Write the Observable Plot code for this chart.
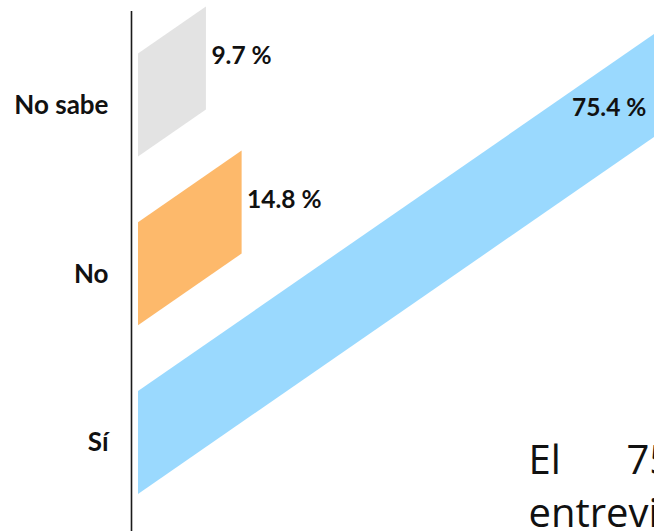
<!DOCTYPE html>
<html><head><meta charset="utf-8">
<script src="https://cdn.jsdelivr.net/npm/d3@7"></script>
<script src="https://cdn.jsdelivr.net/npm/@observablehq/plot@0.6"></script>
<style>
html,body{margin:0;padding:0;background:#fff;overflow:hidden;}
#chart svg{display:block;overflow:hidden;}
</style></head><body><div id="chart"></div>
<script>
// Data
const categories = ["Sí", "No", "No sabe"];
const values = [75.4, 14.8, 9.7];
const valueLabels = ["75.4 %", "14.8 %", "9.7 %"];
const colors = ["#9ad9fe", "#fdb96b", "#e3e3e3"];
const noteLine1 = ["El", "75.4 %"];
const noteLine2 = ["entrevistados"];

// Styling of the skewed (parallelogram) bars
const SKEW = 0.0287;   // upward drift per percentage point (in category units)
const HALF = 0.305;    // half bar thickness (in category units)

const rows = categories.map((c, i) => ({category: c, index: i, value: values[i], label: valueLabels[i]}));
const pts = rows.flatMap(r => [0, r.value].map(x => ({
  category: r.category, x,
  y1: r.index + SKEW * x - HALF,
  y2: r.index + SKEW * x + HALF
})));

const font = "Lato, 'Open Sans', sans-serif";
const noteStyle = {frameAnchor: "top-left", text: d => d, textAnchor: "start", lineAnchor: "middle",
  fontSize: 40, fill: "#111", fontFamily: "'Open Sans', sans-serif"};

const chart = Plot.plot({
  width: 654, height: 531,
  marginLeft: 138, marginRight: 0, marginTop: 0, marginBottom: 0,
  style: {fontFamily: font, background: "#fff"},
  x: {domain: [0, 73.7], axis: null},
  y: {domain: [-0.5244, 2.622], axis: null},
  color: {domain: categories, range: colors},
  marks: [
    Plot.areaY(pts, {x: "x", y1: "y1", y2: "y2", z: "category", fill: "category", clip: true}),
    Plot.ruleX([0], {y1: 2.557, y2: -0.5244, dx: -7, stroke: "#1a1a1a", strokeWidth: 1.6}),
    Plot.text(rows, {x: 0, y: "index", text: "category", textAnchor: "end", dx: -30,
      fontWeight: "bold", fontSize: 26, fill: "#111"}),
    Plot.text(rows.filter(r => r.value < 50), {x: "value", y: r => r.index + SKEW * r.value,
      text: "label", textAnchor: "start", dx: 5, dy: -2, fontWeight: "bold", fontSize: 24.5, fill: "#111"}),
    Plot.text(rows.filter(r => r.value >= 50), {x: "value", y: r => r.index + SKEW * r.value,
      text: "label", textAnchor: "end", dx: -20, dy: 30, fontWeight: "bold", fontSize: 24.5, fill: "#111"}),
    Plot.text([noteLine1[0]], {...noteStyle, dx: 390, dy: 461}),
    Plot.text([noteLine1[1]], {...noteStyle, dx: 488, dy: 461}),
    Plot.text(noteLine2, {...noteStyle, dx: 390, dy: 514})
  ]
});
document.getElementById("chart").appendChild(chart);
</script>
</body></html>
